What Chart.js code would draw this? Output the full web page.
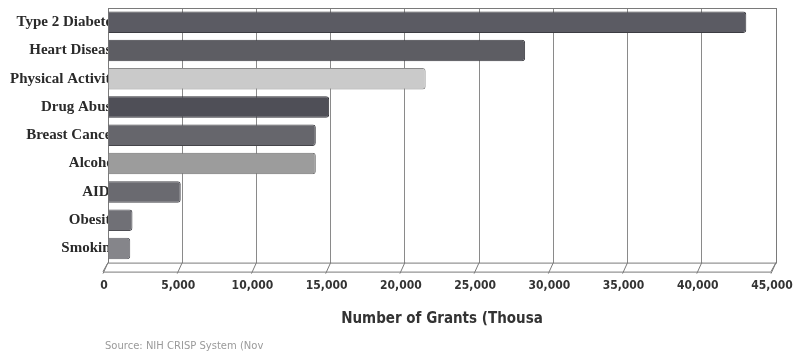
<!DOCTYPE html>
<html>
<head>
<meta charset="utf-8">
<script src="https://cdn.jsdelivr.net/npm/chart.js@4/dist/chart.umd.min.js"></script>
<style>
  body { margin: 0; background: #fff; }
  #wrap { position: relative; width: 798px; height: 356px; }
  #source {
    position: absolute; left: 105px; top: 340px;
    font: 10px "DejaVu Sans", sans-serif; color: #9a9a9a;
  }
</style>
</head>
<body>
<div id="wrap">
  <canvas id="myChart" width="798" height="356"></canvas>
  <div id="source">Source: NIH CRISP System (Nov</div>
</div>
<script>
'use strict';

// data
const topics = ['Type 2 Diabetes', 'Heart Disease', 'Physical Activity', 'Drug Abuse',
  'Breast Cancer', 'Alcohol', 'AIDS', 'Obesity', 'Smoking'];
const grants = [43000, 28100, 21400, 14900, 14000, 14000, 4900, 1650, 1500];
const xTicks = [0, 5000, 10000, 15000, 20000, 25000, 30000, 35000, 40000, 45000];
const axisTitle = 'Number of Grants (Thousa';

const barFill = ['#5b5b63', '#5d5d63', '#cacaca', '#4f4f57', '#66666c',
  '#9c9c9c', '#6a6a70', '#707076', '#85858a'];
const barEdge = ['#3c3c42', '#3c3c42', '#8a8a8a', '#34343a', '#45454a',
  '#707070', '#48484e', '#4e4e54', '#606066'];

//// 3D-ish floor + frame, drawn under the bars
const floorPlugin = {
  id: 'floor',
  beforeDatasetsDraw(chart) {
    const { ctx, chartArea: a, scales } = chart;
    const dx = 5, dy = 9;
    ctx.save();
    ctx.strokeStyle = '#7a7a7a';
    ctx.lineWidth = 1;
    // frame
    ctx.strokeRect(a.left + 0.5, a.top + 0.5, a.right - a.left, a.bottom - a.top);
    // floor front edge
    ctx.beginPath();
    ctx.moveTo(a.left - dx, a.bottom + dy + 0.5);
    ctx.lineTo(a.right - dx, a.bottom + dy + 0.5);
    ctx.moveTo(a.left, a.bottom);
    ctx.lineTo(a.left - dx, a.bottom + dy);
    ctx.moveTo(a.right, a.bottom);
    ctx.lineTo(a.right - dx, a.bottom + dy);
    xTicks.forEach(v => {
      const x = scales.x.getPixelForValue(v);
      ctx.moveTo(x, a.bottom);
      ctx.lineTo(x - dx, a.bottom + dy + 2);
    });
    ctx.stroke();
    ctx.restore();
  }
};

var ctx = document.getElementById('myChart').getContext('2d');

var chart = new Chart(ctx, {
  type: 'bar',
  data: {
    labels: topics,
    datasets: [{
      data: grants,
      backgroundColor: barFill,
      borderColor: barEdge,
      borderWidth: 1,
      borderSkipped: 'start',
      borderRadius: { topRight: 3, bottomRight: 3 },
      barPercentage: 0.76,
      categoryPercentage: 1
    }]
  },
  options: {
    indexAxis: 'y',
    responsive: false,
    animation: false,
    layout: { padding: { top: 8, right: 22, bottom: 24, left: 0 } },
    plugins: {
      legend: { display: false },
      tooltip: { enabled: false }
    },
    scales: {
      x: {
        min: 0,
        max: 45000,
        afterBuildTicks: s => { s.ticks = xTicks.map(v => ({ value: v })); },
        afterFit: s => { s.paddingRight = 0; s.paddingLeft = 0; },
        grid: { color: '#8a8a8a', lineWidth: 1, drawTicks: false },
        border: { display: false },
        ticks: {
          padding: 16,
          labelOffset: -4,
          color: '#333',
          font: { family: '"DejaVu Sans Condensed", "DejaVu Sans", sans-serif', size: 12, weight: 'bold' },
          callback: v => v.toLocaleString('en-US')
        },
        title: {
          display: true,
          text: axisTitle,
          color: '#333',
          padding: { top: 1, bottom: 4 },
          font: { family: '"DejaVu Sans Condensed", "DejaVu Sans", sans-serif', size: 15, weight: 'bold' }
        }
      },
      y: {
        afterFit: s => { s.width = 108; },
        grid: { display: false, drawTicks: false },
        border: { display: true, color: '#555' },
        ticks: {
          padding: -10,
          color: '#2a2a2a',
          font: { family: '"Liberation Serif", serif', size: 15, weight: 'bold' }
        }
      }
    }
  },
  plugins: [floorPlugin]
});
</script>
</body>
</html>
